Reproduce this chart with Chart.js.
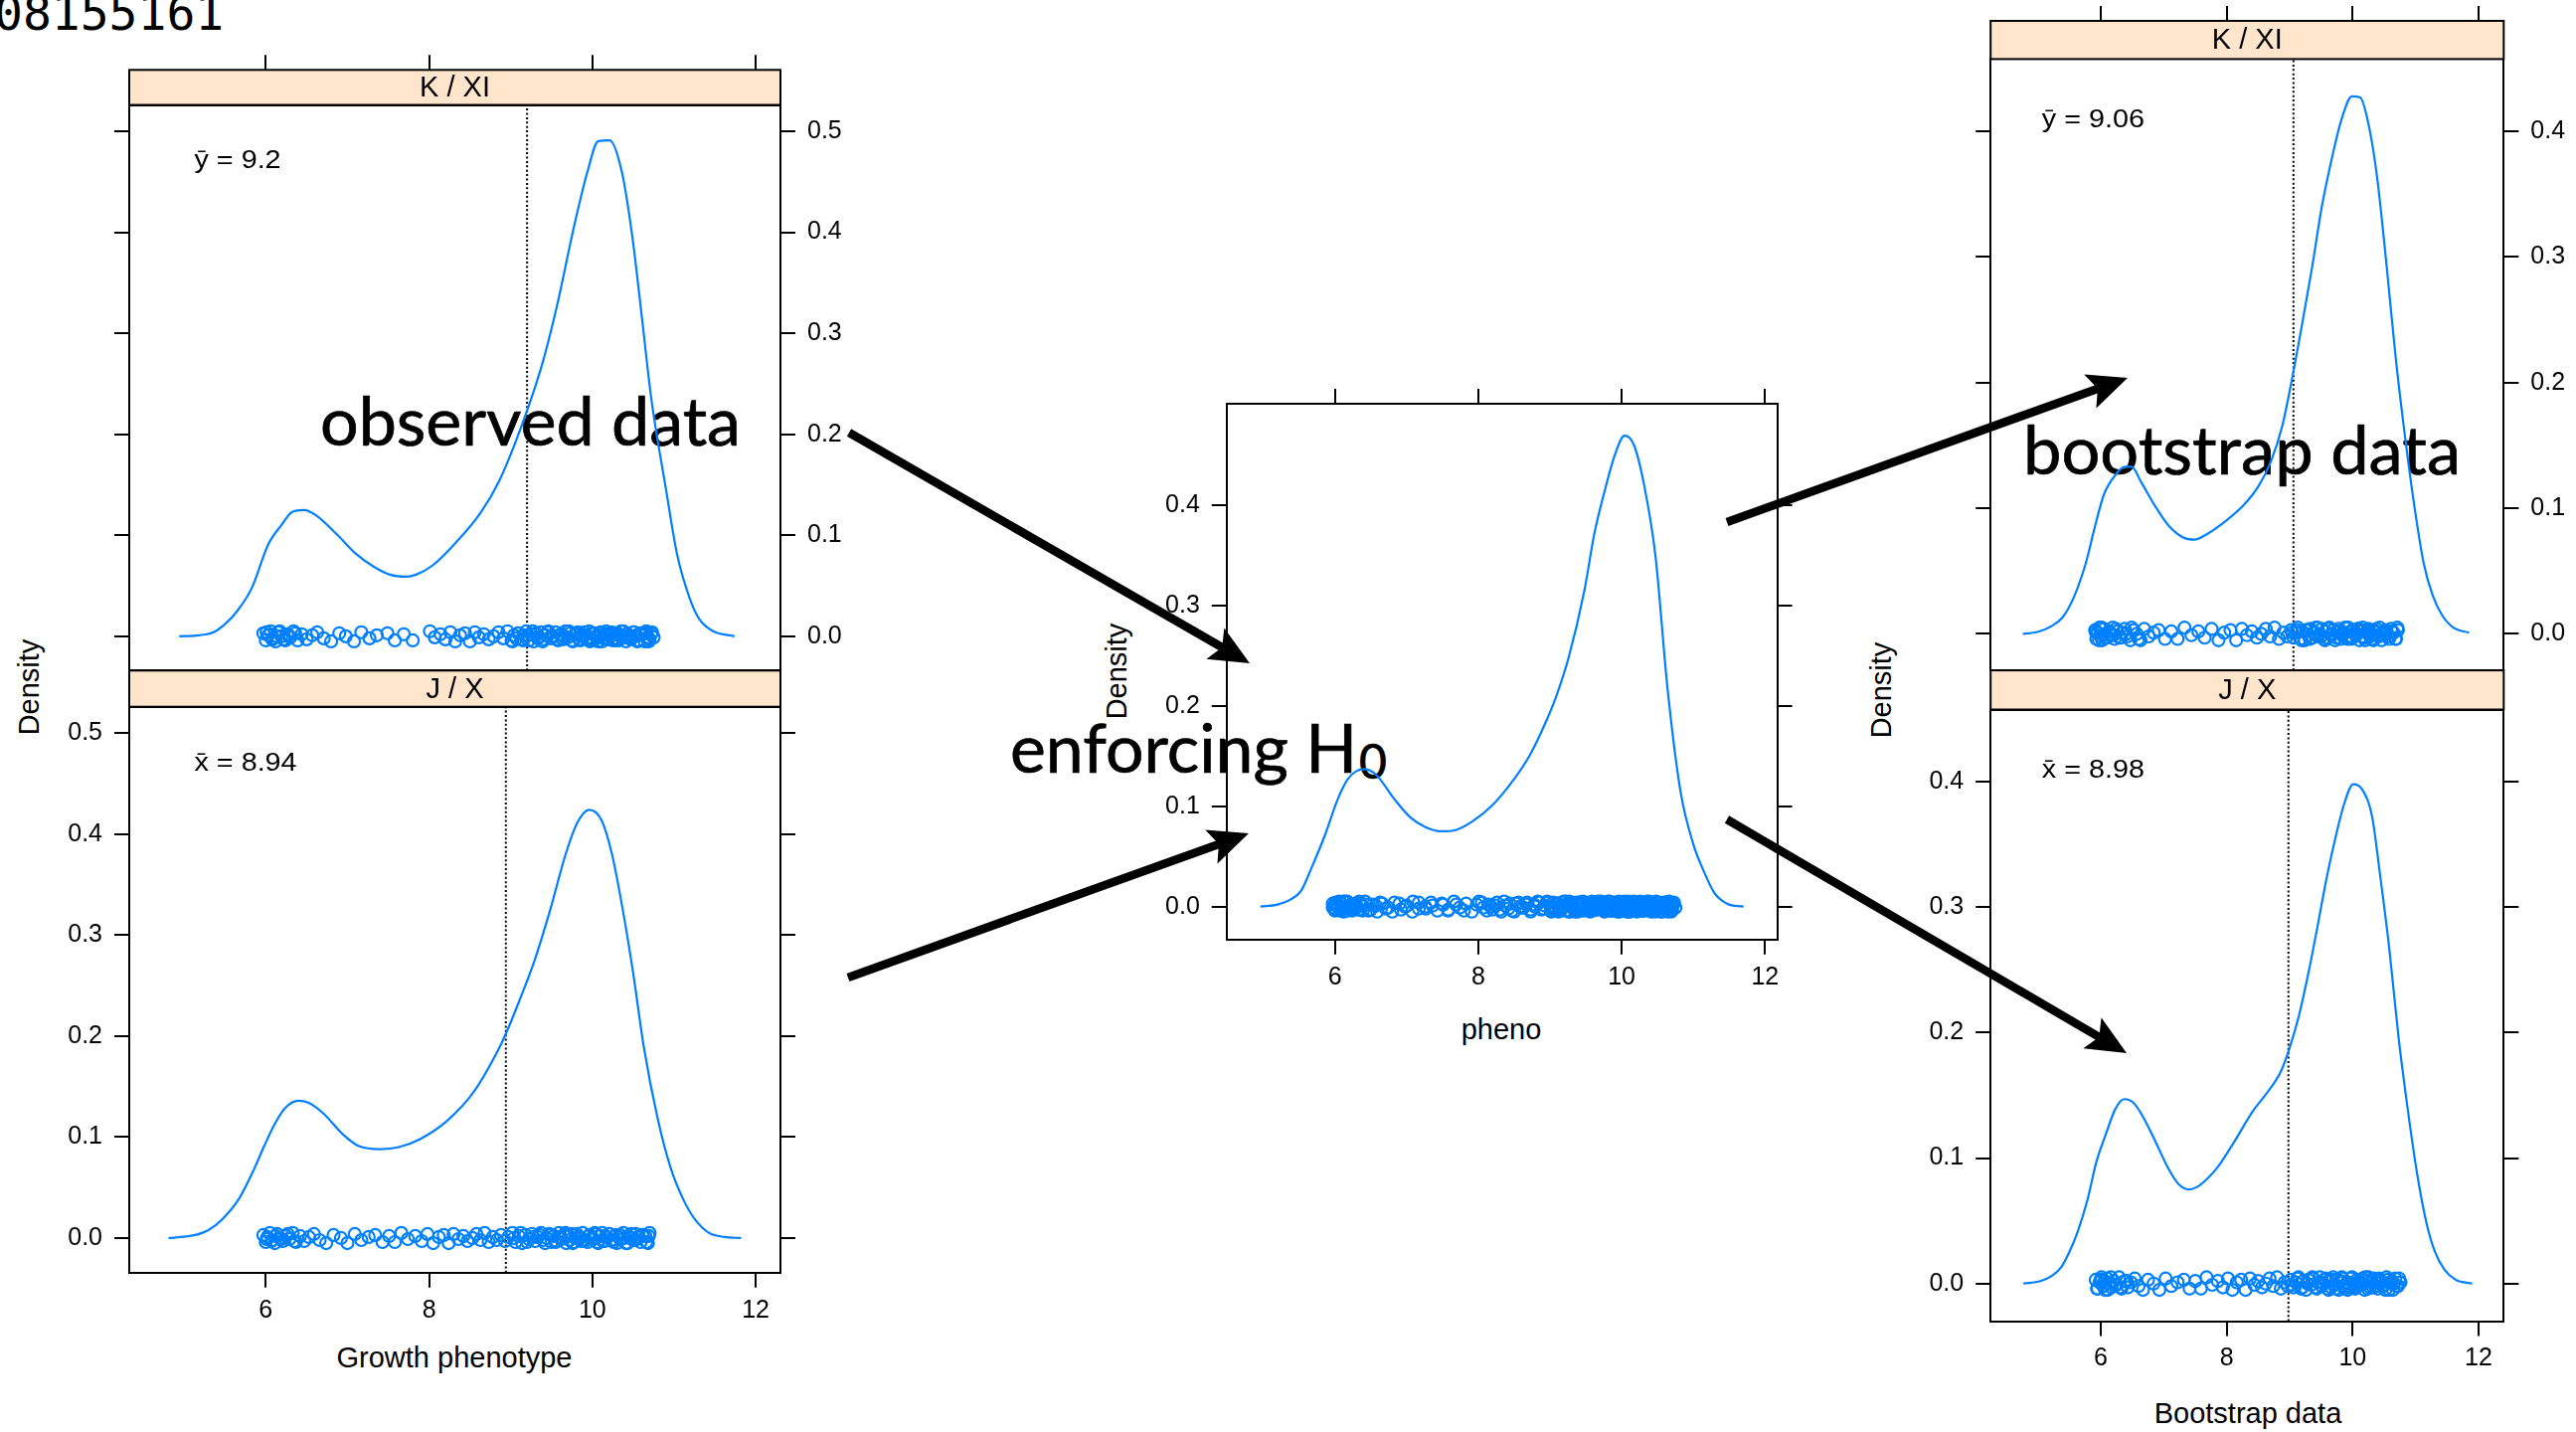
<!DOCTYPE html>
<html>
<head>
<meta charset="utf-8">
<script src="https://cdn.jsdelivr.net/npm/chart.js@4.4.1/dist/chart.umd.min.js"></script>
<style>
  body { margin: 0; background: #fff; }
  #page { position: relative; width: 2591px; height: 1440px; overflow: hidden; background: #fff; }
  #page canvas, #page svg { position: absolute; left: 0; top: 0; }
  .big { font-family: Lato, 'Open Sans', sans-serif; font-size: 68px; fill: #000; stroke: #000; stroke-width: 0.7px; }
  .lab { font-family: 'Liberation Sans', Arial, Helvetica, sans-serif; font-size: 29px; fill: #000; }
</style>
</head>
<body>
<div id="page">
  <!-- text under the plots -->
  <svg id="texts" width="2591" height="1440">
    <text x="-6" y="30" font-family="'DejaVu Sans Mono', monospace" font-size="48">08155161</text>
    <text class="big" x="322" y="448" textLength="423" lengthAdjust="spacingAndGlyphs">observed data</text>
    <text class="big" x="1016" y="777" textLength="349" lengthAdjust="spacingAndGlyphs">enforcing H</text>
    <text class="big" x="1367" y="783" style="font-size:48px">0</text>
    <text class="big" x="2035" y="477" textLength="440" lengthAdjust="spacingAndGlyphs">bootstrap data</text>
    <text class="lab" text-anchor="middle" transform="translate(39,691) rotate(-90)">Density</text>
    <text class="lab" text-anchor="middle" transform="translate(1133,675) rotate(-90)">Density</text>
    <text class="lab" text-anchor="middle" transform="translate(1902,694) rotate(-90)">Density</text>
    <text class="lab" text-anchor="middle" x="457" y="1375">Growth phenotype</text>
    <text class="lab" text-anchor="middle" x="1510" y="1045">pheno</text>
    <text class="lab" text-anchor="middle" x="2261" y="1431">Bootstrap data</text>
  </svg>
  <canvas id="obsK" width="2591" height="1440"></canvas>
  <canvas id="obsJ" width="2591" height="1440"></canvas>
  <canvas id="pooled" width="2591" height="1440"></canvas>
  <canvas id="bootK" width="2591" height="1440"></canvas>
  <canvas id="bootJ" width="2591" height="1440"></canvas>
  <svg id="arrows" width="2591" height="1440"></svg>
</div>
<script>
// ---- tick labels ----
const xTicks = [6, 8, 10, 12];
const yTicksObs = [0, 0.1, 0.2, 0.3, 0.4, 0.5];
const yTicksPheno = [0, 0.1, 0.2, 0.3, 0.4];
const yTicksBoot = [0, 0.1, 0.2, 0.3, 0.4];

// strip labels and means (K/XI, J/X, boot K/XI, boot J/X)
const stripLabels = ['K / XI', 'J / X'];
const meanSymbols = ['y', 'x', 'y', 'x'];
const meanValues = [9.2, 8.94, 9.06, 8.98];

// ---- density curves ----
const obsKCurveX = [4.94, 5.18, 5.36, 5.50, 5.65, 5.83, 6.03, 6.20, 6.32, 6.47, 6.61, 6.87, 7.10, 7.34, 7.52, 7.72, 7.84, 8.04, 8.33,
  8.62, 8.86, 9.09, 9.38, 9.56, 9.79, 9.94, 10.07, 10.21, 10.36, 10.49, 10.61, 10.72, 10.90, 11.04, 11.19, 11.31, 11.48, 11.74];
const obsKCurveY = [0.000, 0.001, 0.004, 0.012, 0.025, 0.048, 0.091, 0.111, 0.123, 0.125, 0.120, 0.101, 0.082, 0.068, 0.061, 0.059, 0.061,
  0.070, 0.093, 0.121, 0.154, 0.199, 0.268, 0.325, 0.411, 0.460, 0.490, 0.491, 0.460, 0.395, 0.313, 0.236, 0.146, 0.080, 0.038, 0.017, 0.005, 0.000];

const obsJCurveX = [4.81, 5.02, 5.22, 5.39, 5.52, 5.68, 5.85, 5.98, 6.11, 6.24, 6.40, 6.52, 6.71, 6.94, 7.14, 7.40, 7.63, 7.89, 8.22, 8.55,
  8.82, 8.95, 9.12, 9.28, 9.48, 9.68, 9.82, 9.96, 10.11, 10.24, 10.37, 10.50, 10.63, 10.80, 10.96, 11.12, 11.26, 11.43, 11.62, 11.82];
const obsJCurveY = [0.000, 0.0015, 0.005, 0.013, 0.023, 0.040, 0.067, 0.091, 0.113, 0.129, 0.136, 0.134, 0.123, 0.103, 0.091, 0.088, 0.090,
  0.098, 0.116, 0.145, 0.182, 0.204, 0.238, 0.272, 0.324, 0.382, 0.412, 0.424, 0.414, 0.380, 0.326, 0.262, 0.189, 0.118, 0.069, 0.037, 0.018,
  0.005, 0.001, 0.000];

const phenoCurveX = [4.96, 5.20, 5.38, 5.53, 5.67, 5.86, 6.04, 6.18, 6.30, 6.41, 6.58, 6.83, 7.05, 7.27, 7.49, 7.67, 7.92, 8.21, 8.50, 8.72,
  8.93, 9.08, 9.26, 9.48, 9.62, 9.77, 9.91, 10.04, 10.17, 10.31, 10.47, 10.64, 10.82, 11.00, 11.14, 11.29, 11.47, 11.70];
const phenoCurveY = [0.000, 0.002, 0.007, 0.016, 0.038, 0.071, 0.107, 0.127, 0.135, 0.137, 0.131, 0.107, 0.089, 0.079, 0.075, 0.076, 0.085,
  0.102, 0.127, 0.151, 0.182, 0.208, 0.248, 0.315, 0.372, 0.416, 0.451, 0.469, 0.460, 0.421, 0.350, 0.217, 0.115, 0.062, 0.036, 0.014, 0.003, 0.000];

const bootKCurveX = [4.76, 5.02, 5.21, 5.39, 5.57, 5.76, 5.90, 6.05, 6.24, 6.38, 6.49, 6.64, 6.86, 7.08, 7.30, 7.49, 7.67, 7.96, 8.26, 8.51,
  8.70, 8.88, 9.03, 9.21, 9.36, 9.51, 9.69, 9.82, 9.99, 10.12, 10.26, 10.39, 10.54, 10.68, 10.83, 10.98, 11.13, 11.27, 11.42, 11.60, 11.85];
const bootKCurveY = [0.000, 0.002, 0.006, 0.013, 0.029, 0.056, 0.084, 0.111, 0.127, 0.133, 0.133, 0.121, 0.102, 0.086, 0.077, 0.075, 0.079,
  0.089, 0.102, 0.118, 0.137, 0.165, 0.201, 0.250, 0.293, 0.340, 0.383, 0.409, 0.428, 0.427, 0.404, 0.363, 0.293, 0.222, 0.158, 0.102, 0.056,
  0.031, 0.015, 0.005, 0.001];

const bootJCurveX = [4.77, 5.04, 5.22, 5.37, 5.49, 5.63, 5.79, 5.93, 6.08, 6.23, 6.37, 6.52, 6.67, 6.87, 7.06, 7.24, 7.40, 7.53, 7.68, 7.86,
  8.12, 8.41, 8.67, 8.86, 9.00, 9.15, 9.30, 9.44, 9.59, 9.74, 9.87, 10.01, 10.15, 10.31, 10.43, 10.58, 10.73, 10.87, 11.02, 11.17, 11.31,
  11.46, 11.64, 11.90];
const bootJCurveY = [0.000, 0.002, 0.006, 0.013, 0.024, 0.041, 0.067, 0.097, 0.119, 0.139, 0.147, 0.144, 0.133, 0.113, 0.093, 0.079, 0.075,
  0.077, 0.083, 0.093, 0.113, 0.137, 0.154, 0.169, 0.188, 0.214, 0.248, 0.284, 0.324, 0.358, 0.383, 0.398, 0.394, 0.372, 0.328, 0.268, 0.196,
  0.141, 0.089, 0.049, 0.025, 0.011, 0.003, 0.000];

// ---- raw observations (rug of circles) ----
const obsKPoints = [5.97, 6.0, 6.03, 6.06, 6.09, 6.12, 6.15, 6.19, 6.22, 6.26, 6.3, 6.34, 6.39, 6.44, 6.5, 6.57, 6.63, 6.71, 6.8, 6.9,
  6.98, 7.08, 7.17, 7.27, 7.36, 7.49, 7.58, 7.69, 7.8,
  8.01, 8.07, 8.14, 8.2, 8.26, 8.32, 8.38, 8.44, 8.5, 8.56, 8.61, 8.67, 8.73, 8.79, 8.85, 8.91, 8.96,
  9.01, 9.04, 9.07, 9.1, 9.13, 9.16, 9.19, 9.22, 9.25, 9.28, 9.31, 9.34, 9.37, 9.4, 9.43, 9.46, 9.49, 9.52, 9.55, 9.58,
  9.61, 9.64, 9.67, 9.7, 9.73, 9.76, 9.79, 9.82, 9.85, 9.88, 9.91, 9.94, 9.96, 9.99,
  10.01, 10.03, 10.05, 10.08, 10.1, 10.12, 10.15, 10.17, 10.19, 10.22, 10.24, 10.26, 10.29, 10.31, 10.33, 10.36,
  10.38, 10.41, 10.43, 10.46, 10.48, 10.51, 10.54, 10.56, 10.59, 10.61, 10.64, 10.66, 10.68, 10.7, 10.72, 10.75,
  6.01, 6.08, 6.13, 6.17, 6.24, 6.28, 6.36, 9.02, 9.09, 9.15, 9.21, 9.27, 9.33, 9.39, 9.45, 9.51, 9.57, 9.62, 9.66,
  9.71, 9.75, 9.8, 9.84, 9.87, 9.9, 9.93, 9.97, 10.0, 10.04, 10.07, 10.11, 10.14, 10.18, 10.21, 10.25, 10.28, 10.32,
  10.35, 10.39, 10.42, 10.47, 10.5, 10.55, 10.6, 10.65, 10.69, 10.73];
const obsJPoints = [5.97, 6.0, 6.02, 6.05, 6.08, 6.11, 6.14, 6.17, 6.21, 6.25, 6.29, 6.33, 6.37, 6.42, 6.47, 6.53, 6.59, 6.66, 6.74, 6.83, 6.92,
  7.0, 7.09, 7.17, 7.26, 7.34, 7.43, 7.51, 7.58, 7.66, 7.74, 7.83, 7.91,
  7.98, 8.05, 8.12, 8.18, 8.24, 8.3, 8.36, 8.42, 8.47, 8.53, 8.58, 8.63, 8.68, 8.73, 8.78, 8.83, 8.88, 8.93, 8.97,
  9.02, 9.06, 9.1, 9.14, 9.18, 9.22, 9.26, 9.3, 9.33, 9.37, 9.4, 9.44, 9.47, 9.5, 9.53, 9.56, 9.59, 9.62, 9.65, 9.68,
  9.71, 9.74, 9.77, 9.8, 9.83, 9.86, 9.88, 9.91, 9.94, 9.97, 9.99,
  10.02, 10.04, 10.07, 10.1, 10.12, 10.15, 10.18, 10.2, 10.23, 10.26, 10.29, 10.32, 10.35, 10.38, 10.41, 10.44, 10.47,
  10.5, 10.53, 10.56, 10.59, 10.62, 10.65, 10.68, 10.7,
  6.01, 6.07, 6.12, 6.19, 6.27, 6.35, 9.04, 9.12, 9.2, 9.28, 9.35, 9.42, 9.49, 9.55, 9.61, 9.67, 9.72, 9.76, 9.81,
  9.85, 9.9, 9.95, 10.0, 10.03, 10.06, 10.09, 10.13, 10.17, 10.21, 10.25, 10.3, 10.34, 10.39, 10.43, 10.48, 10.52,
  10.57, 10.61, 10.66, 10.69];
const bootKPoints = [5.91, 5.93, 5.95, 5.98, 6.0, 6.02, 6.05, 6.07, 6.1, 6.13, 6.16, 6.19, 6.22, 6.26, 6.3, 6.34, 6.38, 6.42, 6.47, 6.52,
  6.57, 6.63, 6.69, 6.76, 6.84, 6.92,
  7.02, 7.12, 7.22, 7.33, 7.44, 7.55, 7.65, 7.76, 7.87, 7.96,
  8.06, 8.15, 8.24, 8.32, 8.4, 8.48, 8.55, 8.62, 8.69, 8.76, 8.83, 8.9, 8.96,
  9.02, 9.06, 9.1, 9.13, 9.17, 9.2, 9.24, 9.27, 9.3, 9.33, 9.36, 9.39, 9.42, 9.45, 9.48, 9.51, 9.54, 9.57, 9.6, 9.63,
  9.66, 9.69, 9.72, 9.75, 9.78, 9.81, 9.84, 9.87, 9.9, 9.93, 9.96, 9.98,
  10.01, 10.03, 10.06, 10.08, 10.11, 10.14, 10.16, 10.19, 10.22, 10.25, 10.28, 10.31, 10.34, 10.37, 10.4, 10.43,
  10.46, 10.5, 10.53, 10.57, 10.61, 10.65, 10.69, 10.72,
  5.92, 5.97, 6.01, 6.04, 6.09, 6.14, 6.2, 6.24, 6.32, 6.4, 6.49, 6.6, 9.04, 9.12, 9.19, 9.26, 9.32, 9.38, 9.44,
  9.5, 9.56, 9.62, 9.68, 9.74, 9.79, 9.83, 9.88, 9.92, 9.97, 10.0, 10.05, 10.1, 10.15, 10.2, 10.24, 10.29, 10.33,
  10.38, 10.42, 10.48, 10.52, 10.58, 10.63, 10.68, 10.71];
const bootJPoints = [5.92, 5.95, 5.98, 6.01, 6.04, 6.07, 6.1, 6.13, 6.17, 6.21, 6.25, 6.29, 6.33, 6.38, 6.43, 6.48, 6.54, 6.6, 6.67, 6.75,
  6.84, 6.93,
  7.03, 7.12, 7.22, 7.32, 7.41, 7.5, 7.59, 7.68, 7.77, 7.86, 7.94,
  8.02, 8.09, 8.16, 8.23, 8.3, 8.37, 8.44, 8.5, 8.56, 8.62, 8.68, 8.74, 8.8, 8.86, 8.92, 8.97,
  9.02, 9.06, 9.1, 9.14, 9.18, 9.22, 9.26, 9.3, 9.34, 9.38, 9.41, 9.45, 9.48, 9.51, 9.54, 9.57, 9.6, 9.63, 9.66, 9.69,
  9.72, 9.75, 9.78, 9.81, 9.84, 9.87, 9.9, 9.93, 9.96, 9.99,
  10.02, 10.04, 10.07, 10.1, 10.13, 10.16, 10.19, 10.22, 10.25, 10.28, 10.31, 10.34, 10.37, 10.4, 10.43, 10.46,
  10.5, 10.54, 10.58, 10.62, 10.66, 10.7, 10.74, 10.76,
  5.94, 6.0, 6.06, 6.11, 6.16, 6.23, 6.31, 6.41, 9.04, 9.12, 9.2, 9.28, 9.36, 9.43, 9.5, 9.56, 9.62, 9.67, 9.73,
  9.79, 9.83, 9.88, 9.92, 9.97, 10.01, 10.06, 10.11, 10.15, 10.2, 10.24, 10.29, 10.33, 10.38, 10.42, 10.48, 10.52,
  10.56, 10.6, 10.64, 10.68, 10.72, 10.75];
// pooled sample = both observed groups
const phenoPoints = obsKPoints.concat(obsJPoints);

// vertical jitter of the rug circles
const jitterY = [
  0.003, -0.004, 0.001, 0.005, -0.002, -0.005, 0.004, 0.000, -0.003, 0.002,
  -0.001, 0.005, -0.004, 0.002, -0.003, 0.001, 0.004, -0.002, -0.005, 0.003,
  0.000, -0.005, 0.004, -0.002, 0.001, 0.003, -0.004, 0.002, -0.004, 0.005,
  -0.001, 0.002, -0.003, 0.004, -0.005, 0.001, 0.003, -0.005, 0.004, -0.001,
  0.002, -0.003, 0.000, 0.004, -0.002, 0.005, -0.004, 0.001, -0.002, 0.003,
  -0.003, 0.001, 0.005, -0.004, 0.002, -0.005, 0.003, -0.001, 0.004, -0.003,
  0.001, 0.005, -0.002, 0.000, 0.004, -0.004, 0.002, -0.003, 0.005, -0.001,
  0.003, -0.005, 0.002, 0.004, -0.004, 0.000, 0.001, -0.003, 0.005, -0.002,
  -0.004, 0.003, 0.000, -0.001, 0.004, -0.005, 0.002, 0.005, -0.003, 0.001,
  0.004, -0.002, -0.004, 0.003, 0.001, -0.001, 0.005, -0.005, 0.002, 0.000,
  -0.002, 0.004, 0.001, -0.004, 0.003, 0.002, -0.005, 0.005, -0.001, -0.003,
  0.002, -0.001, 0.004, -0.003, 0.000, 0.005, -0.004, 0.001, 0.003, -0.005
];

// ---- layout ----
const PAGE_W = 2591, PAGE_H = 1440;
const V_AXIS = 70, H_AXIS = 60;   // room kept for tick labels
const BLUE = '#0080ff';
const FONT = "'Liberation Sans', Arial, Helvetica, sans-serif";

// panel boxes [left, top, right, bottom] in page pixels
const panels = [
  { id: 'obsK', box: [130, 105.5, 785, 674.3], xr: [4.328, 12.303], yr: [-0.0339, 0.526], yTicks: yTicksObs,
    cx: obsKCurveX, cy: obsKCurveY, pts: obsKPoints, mean: 0, strip: 0, stripH: 35.2, isTop: true },
  { id: 'obsJ', box: [130, 710.7, 785, 1279.8], xr: [4.328, 12.303], yr: [-0.0343, 0.526], yTicks: yTicksObs,
    cx: obsJCurveX, cy: obsJCurveY, pts: obsJPoints, mean: 1, strip: 1, stripH: 36.4, isTop: false },
  { id: 'pooled', box: [1233.8, 405.9, 1787.6, 944.7], xr: [4.49, 12.17], yr: [-0.0327, 0.501], yTicks: yTicksPheno,
    cx: phenoCurveX, cy: phenoCurveY, pts: phenoPoints, mean: -1, strip: -1, stripH: 0, isTop: false },
  { id: 'bootK', box: [2002.2, 59.4, 2518.3, 674.1], xr: [4.25, 12.40], yr: [-0.029, 0.4576], yTicks: yTicksBoot,
    cx: bootKCurveX, cy: bootKCurveY, pts: bootKPoints, mean: 2, strip: 0, stripH: 38.4, isTop: true },
  { id: 'bootJ', box: [2002.2, 713.5, 2518.3, 1328.6], xr: [4.25, 12.40], yr: [-0.030, 0.4575], yTicks: yTicksBoot,
    cx: bootJCurveX, cy: bootJCurveY, pts: bootJPoints, mean: 3, strip: 1, stripH: 39.4, isTop: false }
];

Chart.defaults.font.family = FONT;
Chart.defaults.color = '#000';

// lattice strip above a panel
const stripPlugin = {
  id: 'strip',
  afterDraw(chart, args, o) {
    if (!o.text) return;
    const ctx = chart.ctx, a = chart.chartArea;
    ctx.save();
    ctx.fillStyle = '#ffe5cc';
    ctx.fillRect(a.left, a.top - o.height, a.right - a.left, o.height);
    ctx.strokeStyle = '#000';
    ctx.lineWidth = 2;
    ctx.strokeRect(a.left, a.top - o.height, a.right - a.left, o.height);
    ctx.fillStyle = '#000';
    ctx.font = '29px ' + FONT;
    ctx.textAlign = 'center';
    ctx.textBaseline = 'middle';
    ctx.fillText(o.text, (a.left + a.right) / 2, a.top - o.height / 2 + 1);
    ctx.restore();
  }
};

// mean label in the upper left corner of a panel (plotmath draws it a bit wide)
const meanPlugin = {
  id: 'meanLabel',
  afterDraw(chart, args, o) {
    if (!o.text) return;
    const ctx = chart.ctx, a = chart.chartArea;
    ctx.save();
    ctx.translate(a.left + 0.1 * (a.right - a.left), a.top + 0.1 * (a.bottom - a.top));
    ctx.scale(1.15, 1);
    ctx.fillStyle = '#000';
    ctx.font = '25px ' + FONT;
    ctx.textAlign = 'left';
    ctx.textBaseline = 'middle';
    ctx.fillText(o.text, 0, 0);
    ctx.restore();
  }
};

function axis(pos, range, vals, showTicks, showLabels, tickLen, fmt) {
  const horiz = pos === 'top' || pos === 'bottom';
  return {
    type: 'linear',
    position: pos,
    axis: horiz ? 'x' : 'y',
    min: range[0],
    max: range[1],
    afterBuildTicks: s => { s.ticks = vals.map(v => ({ value: v })); },
    afterFit: s => {
      if (horiz) s.height = pos === 'bottom' ? H_AXIS : 0;
      else s.width = V_AXIS;
    },
    grid: { display: true, drawOnChartArea: false, drawTicks: showTicks, tickLength: tickLen, tickWidth: 2, lineWidth: 2, color: '#000' },
    border: { display: true, color: '#000', width: 2 },
    ticks: { display: showLabels, padding: horiz ? 8 : 12, color: '#000', font: { size: 25 },
      autoSkip: false, maxRotation: 0, callback: fmt }
  };
}

const fmtX = v => String(v);
const fmtY = v => v.toFixed(1);

panels.forEach(p => {
  const [l, t, r, b] = p.box;
  const datasets = [
    {
      data: p.cx.map((x, i) => ({ x: x, y: p.cy[i] })),
      showLine: true, borderColor: BLUE, borderWidth: 2.2, pointRadius: 0,
      cubicInterpolationMode: 'monotone', fill: false
    },
    {
      data: p.pts.map((x, i) => ({ x: x, y: jitterY[i % jitterY.length] })),
      showLine: false, borderColor: BLUE, backgroundColor: 'rgba(0,0,0,0)',
      borderWidth: 2.2, pointRadius: 6, pointStyle: 'circle'
    }
  ];
  let meanText = '';
  if (p.mean >= 0) {
    const m = meanValues[p.mean];
    datasets.push({
      data: [{ x: m, y: p.yr[0] }, { x: m, y: p.yr[1] }],
      showLine: true, borderColor: '#000', borderWidth: 2, borderDash: [2, 2.4], pointRadius: 0
    });
    meanText = meanSymbols[p.mean] + '\u0304 = ' + m;
  }
  const topTickLen = p.stripH + 15;
  const scales = p.isTop ? {
    x: axis('bottom', p.xr, xTicks, false, false, 15, fmtX),
    x2: axis('top', p.xr, xTicks, true, false, topTickLen, fmtX),
    y: axis('left', p.yr, p.yTicks, true, false, 15, fmtY),
    y2: axis('right', p.yr, p.yTicks, true, true, 15, fmtY)
  } : {
    x: axis('bottom', p.xr, xTicks, true, true, 15, fmtX),
    x2: axis('top', p.xr, xTicks, p.strip < 0, false, 15, fmtX),
    y: axis('left', p.yr, p.yTicks, true, true, 15, fmtY),
    y2: axis('right', p.yr, p.yTicks, true, false, 15, fmtY)
  };
  new Chart(document.getElementById(p.id), {
    type: 'scatter',
    data: { datasets: datasets },
    options: {
      responsive: false,
      animation: false,
      devicePixelRatio: 1,
      events: [],
      layout: { padding: { left: l - V_AXIS, top: t, right: PAGE_W - r - V_AXIS, bottom: PAGE_H - b - H_AXIS } },
      plugins: {
        legend: { display: false },
        tooltip: { enabled: false },
        strip: { text: p.strip >= 0 ? stripLabels[p.strip] : '', height: p.stripH },
        meanLabel: { text: meanText }
      },
      scales: scales
    },
    plugins: [stripPlugin, meanPlugin]
  });
});

// ---- annotation arrows ----
const arrowPaths = [
  [[854, 435], [1257, 667]],
  [[853, 983], [1256, 838]],
  [[1737, 525], [2140, 380]],
  [[1737, 824], [2139, 1059]]
];
const svg = document.getElementById('arrows');
const NS = 'http://www.w3.org/2000/svg';
arrowPaths.forEach(([s, e]) => {
  const dx = e[0] - s[0], dy = e[1] - s[1];
  const len = Math.hypot(dx, dy);
  const ux = dx / len, uy = dy / len, nx = -uy, ny = ux;
  const L = 40, W = 18;
  const line = document.createElementNS(NS, 'line');
  line.setAttribute('x1', s[0]); line.setAttribute('y1', s[1]);
  line.setAttribute('x2', e[0] - 0.75 * L * ux); line.setAttribute('y2', e[1] - 0.75 * L * uy);
  line.setAttribute('stroke', '#000'); line.setAttribute('stroke-width', 8.5);
  svg.appendChild(line);
  const bx = e[0] - L * ux, by = e[1] - L * uy;
  const pts = [
    [e[0], e[1]],
    [bx + W * nx, by + W * ny],
    [e[0] - 0.8 * L * ux, e[1] - 0.8 * L * uy],
    [bx - W * nx, by - W * ny]
  ];
  const head = document.createElementNS(NS, 'polygon');
  head.setAttribute('points', pts.map(q => q.join(',')).join(' '));
  head.setAttribute('fill', '#000');
  svg.appendChild(head);
});
</script>
</body>
</html>
